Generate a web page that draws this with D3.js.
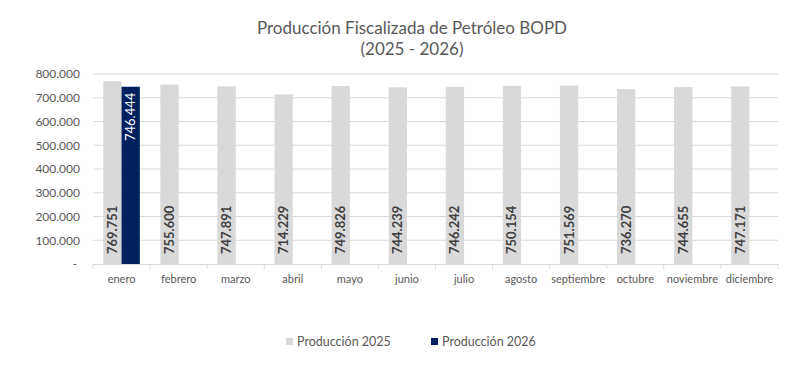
<!DOCTYPE html>
<html><head><meta charset="utf-8">
<script src="https://cdn.jsdelivr.net/npm/d3@7/dist/d3.min.js"></script>
<style>body{margin:0;background:#fff;}svg{display:block;font-family:Lato,"Open Sans",sans-serif;}</style>
</head><body><svg id="c" width="800" height="368"></svg>
<script>
const months = ["enero","febrero","marzo","abril","mayo","junio","julio","agosto","septiembre","octubre","noviembre","diciembre"];
const prod2025 = [769751,755600,747891,714229,749826,744239,746242,750154,751569,736270,744655,747171];
const prod2026 = [746444,null,null,null,null,null,null,null,null,null,null,null];
const seriesNames = ["Producción 2025","Producción 2026"];
const yTicks = [0,100000,200000,300000,400000,500000,600000,700000,800000];

const svg = d3.select("#c");
const colors = ["#d9d9d9","#002060"];
const fmt = v => v === 0 ? "-" : d3.format(",")(v).replace(/,/g,".");

const x = d3.scaleBand().domain(months).range([93,778]).paddingInner(0).paddingOuter(0);
const y = d3.scaleLinear().domain([0,800000]).range([264,74]);
const bw = x.bandwidth();
const barW = 18.3;
const off0 = (bw - 2*barW)/2;

// title
svg.append("text").attr("x",412).attr("y",34).attr("text-anchor","middle").attr("font-size",17).attr("fill","#595959").text("Producción Fiscalizada de Petróleo BOPD");
svg.append("text").attr("x",412).attr("y",55).attr("text-anchor","middle").attr("font-size",17).attr("fill","#595959").text("(2025 - 2026)");

// gridlines
svg.append("g").selectAll("line").data(yTicks.filter(d=>d>0)).join("line")
  .attr("x1",93).attr("x2",778).attr("y1",d=>y(d)).attr("y2",d=>y(d))
  .attr("stroke","#d9d9d9").attr("stroke-width",1);

// y axis labels
const yAx = svg.append("g").attr("transform","translate(80,0)")
  .call(d3.axisLeft(y).tickValues(yTicks).tickFormat(fmt).tickSize(0).tickPadding(0));
yAx.select(".domain").remove();
yAx.selectAll("text").attr("font-size",12).attr("fill","#595959").attr("font-family","Lato,sans-serif");
yAx.selectAll(".tick").filter(d=>d===0).select("text").attr("dx",-3);

// bars 2025
svg.append("g").selectAll("rect").data(months).join("rect")
  .attr("x",(d)=>x(d)+off0).attr("width",barW)
  .attr("y",(d,i)=>y(prod2025[i])).attr("height",(d,i)=>y(0)-y(prod2025[i]))
  .attr("fill",colors[0]);
// bars 2026
const d26 = months.map((m,i)=>({m,v:prod2026[i]})).filter(d=>d.v!=null);
svg.append("g").selectAll("rect").data(d26).join("rect")
  .attr("x",d=>x(d.m)+off0+barW).attr("width",barW)
  .attr("y",d=>y(d.v)).attr("height",d=>y(0)-y(d.v))
  .attr("fill",colors[1]);

// labels 2025 (inside base)
svg.append("g").selectAll("text").data(months).join("text")
  .attr("transform",(d)=>`translate(${x(d)+off0+barW/2+4.5},${y(0)-10}) rotate(-90)`)
  .attr("font-size",13).attr("font-weight","bold").attr("fill","#404040")
  .text((d,i)=>fmt(prod2025[i]));
// labels 2026 (inside end)
svg.append("g").selectAll("text").data(d26).join("text")
  .attr("transform",d=>`translate(${x(d.m)+off0+barW*1.5+4.5},${y(d.v)+6}) rotate(-90)`)
  .attr("text-anchor","end")
  .attr("font-size",13).attr("fill","#ffffff")
  .text(d=>fmt(d.v));

// x axis
const xAx = svg.append("g").attr("transform",`translate(0,${y(0)})`)
  .call(d3.axisBottom(x).tickSize(0).tickPadding(11));
xAx.select(".domain").attr("stroke","#d9d9d9");
xAx.selectAll("text").attr("font-size",11).attr("fill","#595959").attr("font-family","Lato,sans-serif");
svg.append("g").selectAll("line").data(months.concat(["__end"])).join("line")
  .attr("x1",(d,i)=>93+i*bw).attr("x2",(d,i)=>93+i*bw)
  .attr("y1",y(0)).attr("y2",y(0)+5).attr("stroke","#d9d9d9");

// legend
const leg = [{n:seriesNames[0],c:colors[0],x:286},{n:seriesNames[1],c:colors[1],x:431}];
const lg = svg.append("g").selectAll("g").data(leg).join("g").attr("transform",d=>`translate(${d.x},338)`);
lg.append("rect").attr("width",7).attr("height",7).attr("fill",d=>d.c);
lg.append("text").attr("x",11).attr("y",8).attr("font-size",12.5).attr("fill","#595959").text(d=>d.n);
</script></body></html>
